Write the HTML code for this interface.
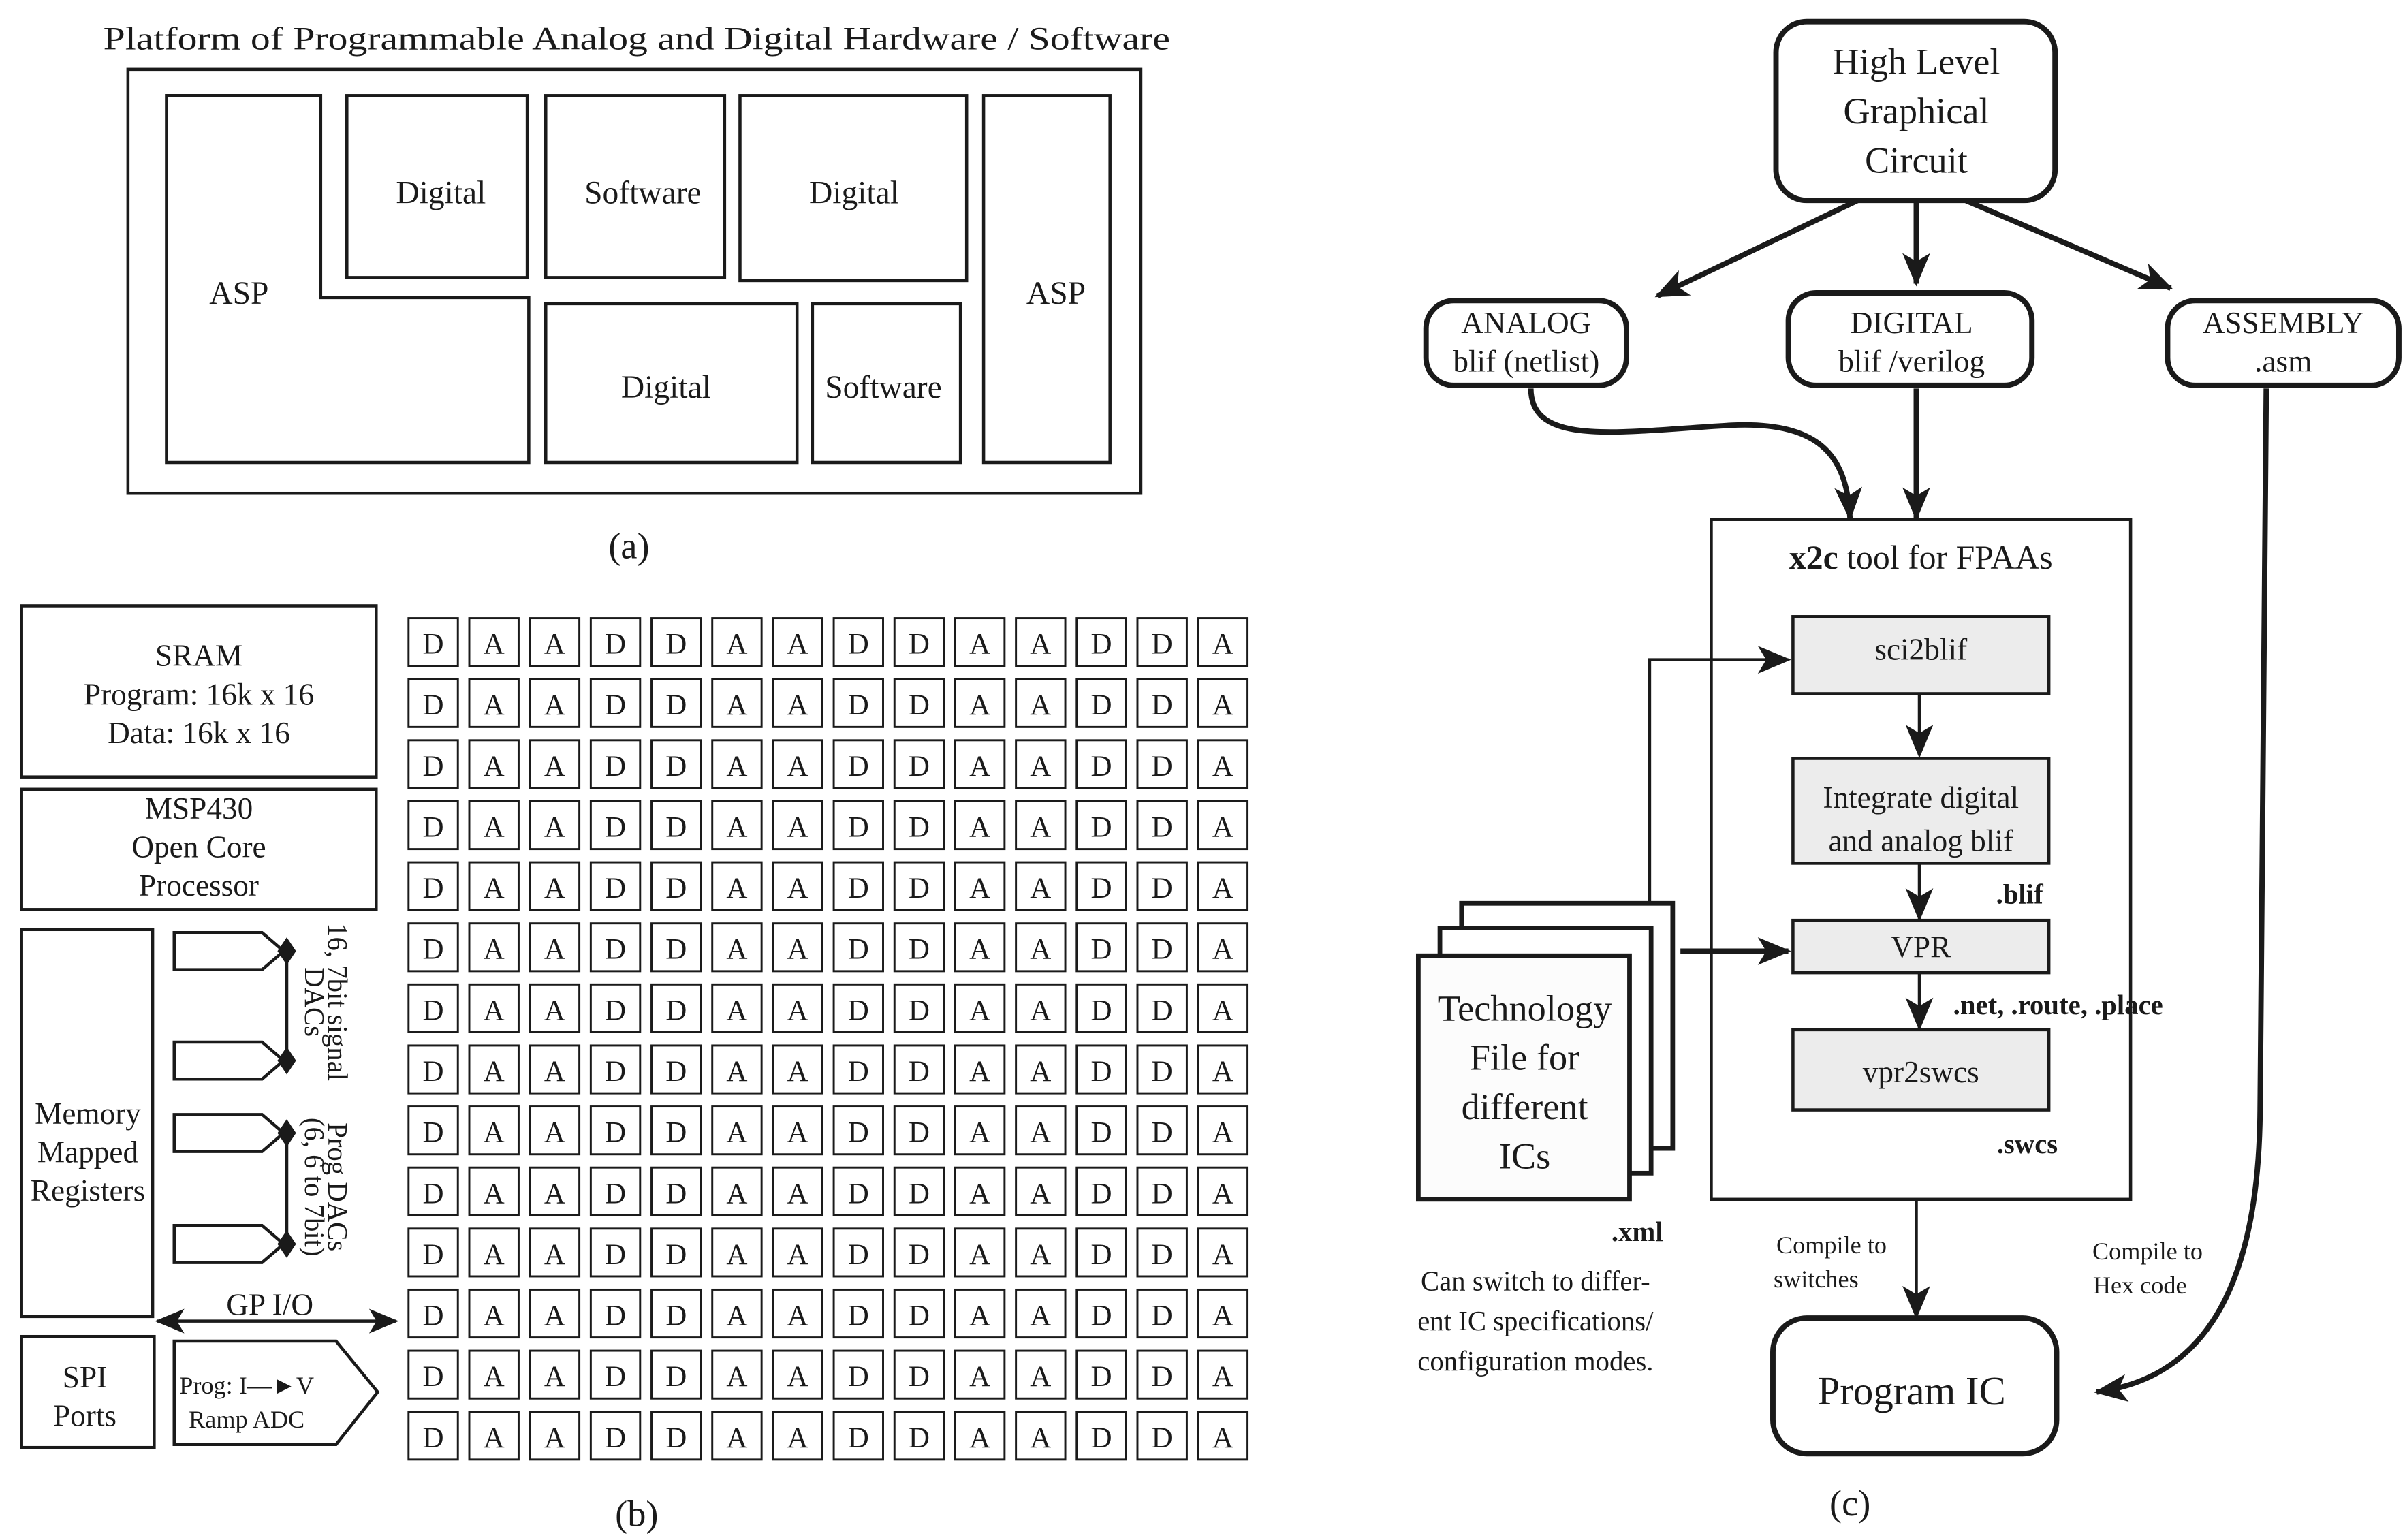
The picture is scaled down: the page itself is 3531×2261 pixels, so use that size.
<!DOCTYPE html>
<html><head><meta charset="utf-8"><style>html,body{margin:0;padding:0;background:#fff}svg{display:block;font-family:"Liberation Serif",serif}svg text{font-family:"Liberation Serif",serif}</style></head>
<body>
<svg width="3531" height="2261" viewBox="0 0 1560 999" preserveAspectRatio="none" xmlns="http://www.w3.org/2000/svg" fill="none" stroke="#1a1a1a">
<defs>
<marker id="ah2" viewBox="0 0 12 10" refX="11" refY="5" markerWidth="22" markerHeight="18" orient="auto-start-reverse" markerUnits="userSpaceOnUse">
<path d="M0,0 L12,5 L0,10 L3,5 z" fill="#1a1a1a" stroke="none"/></marker>
<marker id="ah3" viewBox="0 0 12 10" refX="11" refY="5" markerWidth="20" markerHeight="16" orient="auto-start-reverse" markerUnits="userSpaceOnUse">
<path d="M0,0 L12,5 L0,10 L3,5 z" fill="#1a1a1a" stroke="none"/></marker>
</defs>
<g fill="#1a1a1a" stroke="none" font-size="21" text-anchor="middle">
<text x="413" y="32" textLength="692" lengthAdjust="spacingAndGlyphs">Platform of Programmable Analog and Digital Hardware / Software</text>
<text x="286" y="132">Digital</text><text x="417" y="132">Software</text><text x="554" y="132">Digital</text>
<text x="155" y="197">ASP</text><text x="685" y="197">ASP</text>
<text x="432" y="258">Digital</text><text x="573" y="258">Software</text>
<text x="408" y="362" font-size="24">(a)</text>
<text x="413" y="990" font-size="24">(b)</text>
<text x="1200" y="983" font-size="24">(c)</text>
</g>
<g stroke-width="2">
<rect x="83" y="45" width="657" height="275"/>
<path d="M108,62 H208 V193 H343 V300 H108 Z"/>
<rect x="225" y="62" width="117" height="118"/>
<rect x="354" y="62" width="116" height="118"/>
<rect x="480" y="62" width="147" height="120"/>
<rect x="354" y="197" width="163" height="103"/>
<rect x="527" y="197" width="96" height="103"/>
<rect x="638" y="62" width="82" height="238"/>
<rect x="14" y="393" width="230" height="111"/>
<rect x="14" y="512" width="230" height="78"/>
<rect x="14" y="603" width="85" height="251"/>
<rect x="14" y="867" width="86" height="72"/>
<path d="M113,605 H170 L184,617 L170,629 H113 Z"/>
<path d="M113,676 H170 L184,688 L170,700 H113 Z"/>
<path d="M113,723 H170 L184,735 L170,747 H113 Z"/>
<path d="M113,795 H170 L184,807 L170,819 H113 Z"/>
<path d="M186,617 V688 M186,735 V807"/>
<path d="M113,870 H218 L245,903 L218,937 H113 Z"/>
<path d="M102,857 H257" marker-start="url(#ah3)" marker-end="url(#ah3)"/>
</g>
<g fill="#1a1a1a" stroke="none">
<path d="M186,608 L192,617 L186,626 L180,617 Z"/><path d="M186,679 L192,688 L186,697 L180,688 Z"/>
<path d="M186,726 L192,735 L186,744 L180,735 Z"/><path d="M186,798 L192,807 L186,816 L180,807 Z"/>
</g>
<g fill="#1a1a1a" stroke="none" font-size="20" text-anchor="middle">
<text x="129" y="432">SRAM</text><text x="129" y="457">Program: 16k x 16</text><text x="129" y="482">Data: 16k x 16</text>
<text x="129" y="531">MSP430</text><text x="129" y="556">Open Core</text><text x="129" y="581">Processor</text>
<text x="57" y="729">Memory</text><text x="57" y="754">Mapped</text><text x="57" y="779">Registers</text>
<text x="55" y="900">SPI</text><text x="55" y="925">Ports</text>
<text x="175" y="853">GP I/O</text>
<text x="160" y="904" font-size="16">Prog: I—►V</text><text x="160" y="926" font-size="16">Ramp ADC</text>
<text transform="translate(213,650) rotate(90)" font-size="18">16, 7bit signal</text>
<text transform="translate(198,650) rotate(90)" font-size="18">DACs</text>
<text transform="translate(213,770) rotate(90)" font-size="18">Prog DACs</text>
<text transform="translate(198,770) rotate(90)" font-size="18">(6, 6 to 7bit)</text>
</g>
<g id="grid" stroke-width="1.3"></g>
<g id="gridt" fill="#1a1a1a" stroke="none" font-size="19" text-anchor="middle"></g>
<g stroke-width="3.5">
<rect x="1152" y="14" width="181" height="116" rx="20"/>
<rect x="925" y="195" width="130" height="55" rx="18"/>
<rect x="1160" y="190" width="158" height="60" rx="18"/>
<rect x="1406" y="195" width="150" height="55" rx="18"/>
<rect x="1150" y="855" width="184" height="88" rx="22"/>
</g>
<g stroke-width="3.5">
<path d="M1205,130 L1075,192" marker-end="url(#ah2)"/>
<path d="M1243,130 V184" marker-end="url(#ah2)"/>
<path d="M1275,130 L1408,187" marker-end="url(#ah2)"/>
<path d="M993,252 C993,290 1050,280 1120,276 C1185,272 1198,300 1200,336" marker-end="url(#ah2)"/>
<path d="M1243,252 V336" marker-end="url(#ah2)"/>
<path d="M1470,252 L1466,720 C1465,850 1420,895 1360,903" marker-end="url(#ah2)"/>
<path d="M1090,617 H1160" marker-end="url(#ah2)"/>
</g>
<g stroke-width="2">
<rect x="1110" y="337" width="272" height="441"/>
<rect x="1163" y="400" width="166" height="50" fill="#ececec"/>
<rect x="1163" y="492" width="166" height="68" fill="#ececec"/>
<rect x="1163" y="597" width="166" height="34" fill="#ececec"/>
<rect x="1163" y="668" width="166" height="52" fill="#ececec"/>
<path d="M1245,450 V490" marker-end="url(#ah2)"/>
<path d="M1245,560 V596" marker-end="url(#ah2)"/>
<path d="M1245,631 V667" marker-end="url(#ah2)"/>
<path d="M1243,778 V854" marker-end="url(#ah2)"/>
<path d="M1070,585 V428 H1160" marker-end="url(#ah2)"/>
</g>
<g stroke-width="3" fill="#fff">
<rect x="948" y="586" width="137" height="159"/>
<rect x="934" y="602" width="137" height="159"/>
<rect x="920" y="620" width="137" height="158" fill="#fcfcfc"/>
</g>
<g fill="#1a1a1a" stroke="none" text-anchor="middle" font-size="24">
<text x="1243" y="48">High Level</text><text x="1243" y="80">Graphical</text><text x="1243" y="112">Circuit</text>
<text x="990" y="216" font-size="20">ANALOG</text><text x="990" y="241" font-size="20">blif (netlist)</text>
<text x="1240" y="216" font-size="20">DIGITAL</text><text x="1240" y="241" font-size="20">blif /verilog</text>
<text x="1481" y="216" font-size="20">ASSEMBLY</text><text x="1481" y="241" font-size="20">.asm</text>
<text x="1246" y="369" font-size="22"><tspan font-weight="bold">x2c</tspan> tool for FPAAs</text>
<text x="1246" y="428" font-size="20">sci2blif</text>
<text x="1246" y="524" font-size="20">Integrate digital</text><text x="1246" y="552" font-size="20">and analog blif</text>
<text x="1246" y="621" font-size="20">VPR</text>
<text x="1246" y="702" font-size="20">vpr2swcs</text>
<text x="1310" y="586" font-size="18" font-weight="bold">.blif</text>
<text x="1335" y="658" font-size="18" font-weight="bold">.net, .route, .place</text>
<text x="1315" y="748" font-size="18" font-weight="bold">.swcs</text>
<text x="1062" y="805" font-size="18" font-weight="bold">.xml</text>
<text x="989" y="662">Technology</text><text x="989" y="694">File for</text><text x="989" y="726">different</text><text x="989" y="758">ICs</text>
<text x="996" y="837" font-size="18">Can switch to differ-</text>
<text x="996" y="863" font-size="18">ent IC specifications/</text>
<text x="996" y="889" font-size="18">configuration modes.</text>
<text x="1188" y="813" font-size="16">Compile to</text><text x="1178" y="835" font-size="16">switches</text>
<text x="1393" y="817" font-size="16">Compile to</text><text x="1388" y="839" font-size="16">Hex code</text>
<text x="1240" y="911" font-size="26">Program IC</text>
</g>
<script>
(function(){
var g=document.getElementById('grid'),t=document.getElementById('gridt');
var pat="DAADDAADDAADDA";var ns="http://www.w3.org/2000/svg";
for(var r=0;r<14;r++)for(var c=0;c<14;c++){
var x=265+c*39.4,y=401+r*39.6;
var re=document.createElementNS(ns,'rect');re.setAttribute('x',x);re.setAttribute('y',y);re.setAttribute('width',32);re.setAttribute('height',31);g.appendChild(re);
var tx=document.createElementNS(ns,'text');tx.setAttribute('x',x+16);tx.setAttribute('y',y+23);tx.textContent=pat[c];t.appendChild(tx);}
})();
</script>
</svg>
</body></html>
